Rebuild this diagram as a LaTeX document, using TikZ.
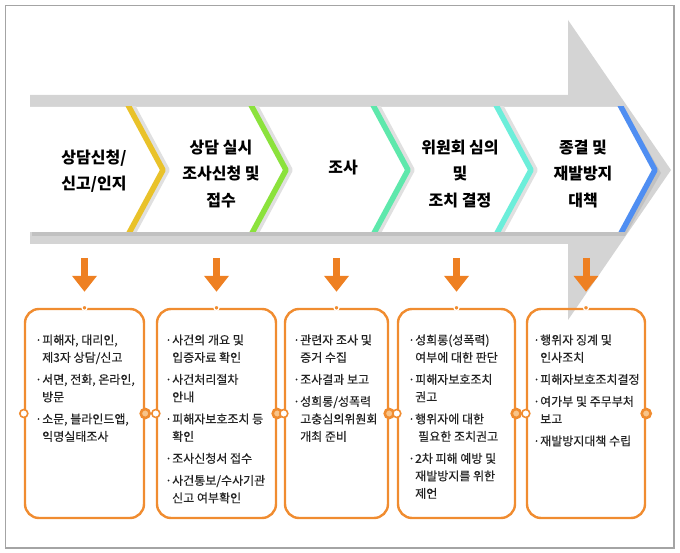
\documentclass[tikz,border=0pt]{standalone}
\usepackage{fontspec}
\newfontfamily\kr{Noto Sans CJK KR}
\newfontfamily\krm{Noto Sans CJK KR}[FakeBold=0.35]
\usetikzlibrary{arrows.meta}
\definecolor{arrgray}{HTML}{D4D4D4}
\definecolor{framegray}{HTML}{A4A4A4}
\definecolor{org}{HTML}{EE8022}
\definecolor{orgline}{HTML}{F08C30}
\definecolor{orglight}{HTML}{F8C48A}
\definecolor{txt}{HTML}{222222}
\definecolor{c1}{HTML}{E9C22A}
\definecolor{c2}{HTML}{8BE23C}
\definecolor{c3}{HTML}{5EE8AC}
\definecolor{c4}{HTML}{6CEEDA}
\definecolor{c5}{HTML}{4F8EF2}
\newcommand{\bul}{\makebox[7pt][l]{·}}
\newcommand{\ind}{\hspace*{7pt}}
\newcommand{\boxlist}[1]{\parbox[t]{125pt}{\krm\fontsize{12}{17.5}\selectfont\color{txt}#1}}
\begin{document}
\begin{tikzpicture}[x=1pt,y=-1pt,
  title/.style={align=center,font=\kr\bfseries\fontsize{16}{26.5}\selectfont,text=black,inner sep=0pt},
  stepbox/.style={draw=orgline,line width=2.4pt,rounded corners=14pt,minimum width=#1,minimum height=209pt,inner sep=0pt},
  orgarrow/.style={draw=org,line width=7pt,-{Triangle[length=16pt,width=24pt]},shorten >=16pt},
  lcirc/.style={circle,draw=orgline,fill=white,line width=1.6pt,minimum size=8pt,inner sep=0pt},
  rcirc/.style={circle,draw=orgline,fill=orglight,line width=2.6pt,minimum size=9pt,inner sep=0pt},
  tick/.style={circle,fill=orgline,draw=white,line width=1.2pt,minimum size=5pt,inner sep=0pt},
  listtext/.style={anchor=base west,inner sep=0pt},
  chev/.style={line width=5.5pt,line join=round}
]
\useasboundingbox (0,0) rectangle (680,553);
\draw[framegray,line width=1.4pt] (5.5,5.5) rectangle (674,548);

% big gray arrow
\fill[arrgray] (30,95) -- (568,95) -- (568,20) -- (671,170) -- (568,320) -- (568,244) -- (30,244) -- cycle;

% shadow of chevron band
\fill[black!30,opacity=0.55] (32,110) -- (625,110) -- (661,173) -- (625,236) -- (32,236) -- cycle;
% white chevron band
\fill[white] (30,107) -- (622,107) -- (657,170) -- (622,232) -- (30,232) -- cycle;

\begin{scope}
\clip (0,107) rectangle (680,232);
\foreach \t/\c in {128/c1,251/c2,373/c3,496/c4}{
  \draw[chev,black!12] (\t+4,105) -- (\t+39,170) -- (\t+4,235);
  \draw[chev,\c] (\t,105) -- (\t+35,170) -- (\t,235);
}
\draw[chev,c5] (620,105) -- (655,170) -- (620,235);
\end{scope}

% titles
\node[title] (t1) at (94,171) {상담신청/\\신고/인지};
\node[title] (t2) at (221,174) {상담 실시\\조사신청 및\\접수};
\node[title] (t3) at (343,168) {조사};
\node[title] (t4) at (460,174) {위원회 심의\\및\\조치 결정};
\node[title] (t5) at (583,174) {종결 및\\재발방지\\대책};

% boxes
\node[stepbox=119pt] (b1) at (84.5,413.5) {};
\node[stepbox=119pt] (b2) at (216.5,413.5) {};
\node[stepbox=103pt] (b3) at (336.5,413.5) {};
\node[stepbox=117pt] (b4) at (456.5,413.5) {};
\node[stepbox=118pt] (b5) at (586,413.5) {};

% arrows
\foreach \i/\x in {1/84.5,2/216.5,3/336.5,4/456.5,5/586}{
  \coordinate (s\i) at (\x,258);
  \draw[orgarrow] (s\i) -- (b\i.north);
  \node[tick] (k\i) at (b\i.north) {};
  \node[lcirc] (l\i) at (b\i.west) {};
  \node[rcirc] (r\i) at (b\i.east) {};
}

% lists
\node[listtext] (x1) at (35,334.5) {\boxlist{%
\bul 피해자, 대리인,\\ \ind 제3자 상담/신고\\[4.5pt]
\bul 서면, 전화, 온라인,\\ \ind 방문\\[4.5pt]
\bul 소문, 블라인드앱,\\ \ind 익명실태조사}};

\node[listtext] (x2) at (165,334.5) {\boxlist{%
\bul 사건의 개요 및\\ \ind 입증자료 확인\\[4.5pt]
\bul 사건처리절차\\ \ind 안내\\[4.5pt]
\bul 피해자보호조치 등\\ \ind 확인\\[4.5pt]
\bul 조사신청서 접수\\[4.5pt]
\bul 사건통보/수사기관\\ \ind 신고 여부확인}};

\node[listtext] (x3) at (293,334.5) {\boxlist{%
\bul 관련자 조사 및\\ \ind 증거 수집\\[4.5pt]
\bul 조사결과 보고\\[4.5pt]
\bul 성희롱/성폭력\\ \ind 고충심의위원회\\ \ind 개최 준비}};

\node[listtext] (x4) at (408,334.5) {\boxlist{%
\bul 성희롱(성폭력)\\ \ind 여부에 대한 판단\\[4.5pt]
\bul 피해자보호조치\\ \ind 권고\\[4.5pt]
\bul 행위자에 대한\\ \ind\hspace*{3pt}필요한 조치권고\\[4.5pt]
\bul 2차 피해 예방 및\\ \ind 재발방지를 위한\\ \ind 제언}};

\node[listtext] (x5) at (533,334.5) {\boxlist{%
\bul 행위자 징계 및\\ \ind 인사조치\\[4.5pt]
\bul 피해자보호조치결정\\[4.5pt]
\bul 여가부 및 주무부처\\ \ind 보고\\[4.5pt]
\bul 재발방지대책 수립}};
\end{tikzpicture}
\end{document}
